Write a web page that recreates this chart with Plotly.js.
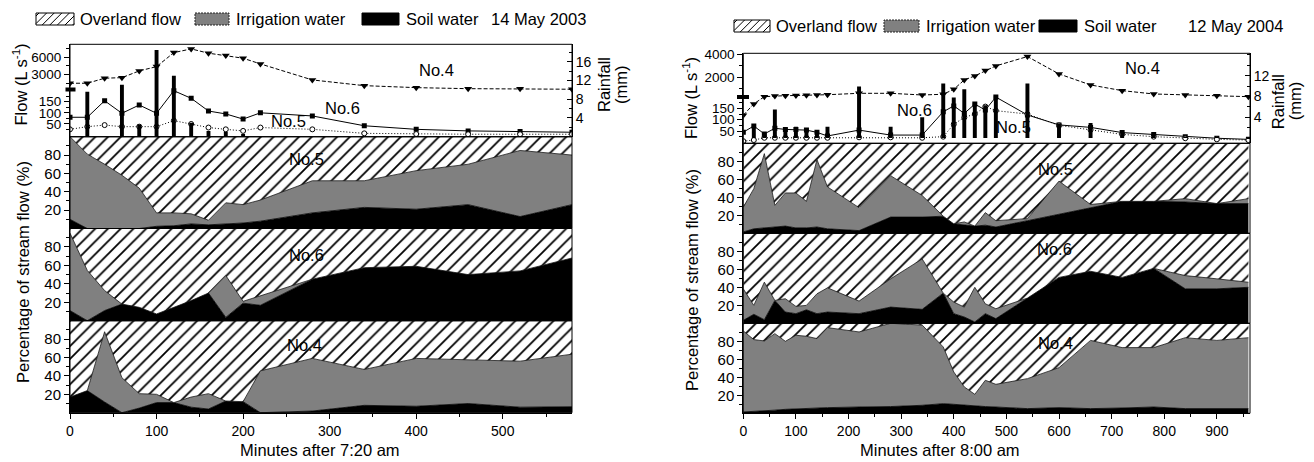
<!DOCTYPE html>
<html><head><meta charset="utf-8">
<script src="https://cdn.plot.ly/plotly-3.0.1.min.js"></script>
<style>html,body{margin:0;padding:0;background:#fff}#chart{width:1314px;height:462px}</style>
</head><body><div id="chart"></div>
<script>
// ---------------- DATA ----------------
// Left chart: 14 May 2003, minutes after 7:20 am
const tA = [0,20,40,60,80,100,120,140,160,180,200,220,280,340,400,460,520,580];
const flowA_no4 = [1470,1470,2350,2450,3630,4380,6830,7480,6730,6320,5850,4850,2050,1050,700,520,520,420];
const flowA_no6 = [80,80,154,98,135,98,199,165,108,95,72,100,86,42,26,19,16,13];
const flowA_no5 = [26,38,45,38,38,38,65,50,34,26,19,34,26,8,5,4,4,4];
const rainA_t = [20,60,80,100,120,140,160,180,200];
const rainA = [9.6,11.1,2.6,18.5,13,3,1.2,1,0.6];
const soilA_no5 = [10,0,0,0,0,2.4,3,5,4,5,6,8,17,23,21,26,13,26];
const irrA_no5  = [90,81,70,58,44,14.6,14,11,5,23,20,23,35,29,42,44,72,54];
const soilA_no6 = [11,0,11,18,14.5,7.3,14.5,21.8,30,3.6,19,16.7,45,57.5,59,50,54,68];
const irrA_no6  = [84,54.5,21.7,0,0,0,0,0,0,45.4,2,10.3,0,0,0,0,0,0];
const soilA_no4 = [17,24,11.6,0,5,11,11,6,4,12.7,12,0,1.8,8,7,10,6,6.5];
const irrA_no4  = [0,0,76.4,38,15.7,9,0,11,16.7,0,0,45.5,57.2,39,52,47.6,50,57.1];

// Right chart: 12 May 2004, minutes after 8:00 am
const tB = [0,20,40,60,80,100,120,140,160,220,280,340,380,400,420,440,460,480,540,600,660,720,780,840,900,960];
const flowB_no4 = [120,170,240,300,330,345,365,390,415,540,540,390,455,900,1740,2100,2580,3000,3840,2280,1290,780,480,390,325,240];
const flowB_no6 = [45,72,37,62,57,57,54,44,28,54,32,32,135,161,128,169,143,202,121,77,66,43,35,25,18,13];
const flowB_no5 = [5,10,20,20,20,20,20,20,20,22,22,20,25,80,110,125,158,140,125,75,55,35,25,18,13,10];
const rainB_t = [20,40,60,80,100,120,140,160,220,280,340,380,400,420,440,460,480,540,600,660,720,780,840,900,960];
const rainB = [2.3,1,5.5,1.9,2.2,1.9,1.3,2.2,9.9,2.2,4,10.5,7.8,9.4,6.7,6.3,8.1,10.5,2.8,2.9,1.2,1,0.3,0.2,0.2];
const soilB_no5 = [1.5,5,6,7,8,6,6,7,5,3,18,18,19,10.5,9,8,9,7,14,21,28,35.5,35.5,34.8,33,33];
const irrB_no5  = [27.5,44.6,82.5,24,36.8,38.8,29.5,74.9,46.5,25.5,46,24,0,0,3.6,0,14,7,2.3,37,4,0,0,3.7,0,5.5];
const soilB_no6 = [3.3,10,4,25.4,12.5,10.7,15,10.7,12.5,10.7,18,15.5,33.5,10.7,7,1.5,10.7,5.2,28,51,57.8,51,61,38.3,38.3,40];
const irrB_no6  = [35,9.9,41.7,0,14.8,8.1,4.9,22.1,26.9,14,31.4,56,0,12.9,11,38.5,11,11,0,0,0,0,0,14.7,11.1,5.6];
const soilB_no4 = [1.5,2,2.6,3.5,4.4,5,5.5,6,6.3,7,7.5,8.9,10.7,10,8.9,8,7.5,7,5.2,6.3,5.2,5.9,7,5.2,5.2,5.2];
const irrB_no4  = [90,79.9,77.8,85,75.6,81.7,80.1,77,88.9,83.4,92.5,89.1,63,35.9,20.4,13.1,29.2,25.2,33.3,44.4,75.8,67.1,66,78.8,75.8,78.8];

const flowTicksMajorA = [50,100,150,3000,6000];
const flowTicksMinorA = [25,75,125,175,1500,4500,7500];
const flowTicksMajorB = [50,100,150,2000,4000];
const flowTicksMinorB = [25,75,125,175,1000,3000];
const pctTicks = [20,40,60,80];
const pctMinor = [10,30,50,70,90];

// ---------------- BUILD ----------------
const W=1314,H=462;
const FONT='Liberation Sans, Arial, sans-serif';
const px=x=>x/W, py=y=>1-y/H;
const dom=(t,b)=>[1-b/H,1-t/H];
const brk=(v,r)=>v<=200?v:200+(v-200)*r;

const traces=[]; const layout={
  width:W,height:H,margin:{l:0,r:0,t:0,b:0},paper_bgcolor:'white',plot_bgcolor:'rgba(0,0,0,0)',
  showlegend:false,font:{family:FONT,color:'black',size:15},shapes:[],annotations:[]
};
const tf=(s)=>({family:FONT,size:s,color:'black'});

function build(c){
  const xa=c.xa, xkey=xa==='x'?'xaxis':'xaxis'+xa.slice(1);
  const ak=(y)=>y==='y'?'yaxis':'yaxis'+y.slice(1);
  layout[xkey]={domain:[px(c.xPix[0]),px(c.xPix[1])],range:c.xRange,anchor:c.pct[2].ya,
    tickmode:'linear',tick0:0,dtick:100,ticks:'outside',ticklen:5,tickwidth:1,tickcolor:'black',
    minor:{tickmode:'linear',tick0:0,dtick:50,ticks:'outside',ticklen:3,tickwidth:1,tickcolor:'black'},
    showline:true,linecolor:'black',linewidth:1,showgrid:false,zeroline:false,tickfont:tf(14)};
  layout[ak(c.yFlow)]={domain:dom(c.flowPix[0],c.flowPix[1]),range:c.flowRange,anchor:xa,
    tickmode:'array',tickvals:c.major.map(v=>brk(v,c.r)),ticktext:c.major.map(String),
    minor:{tickmode:'array',tickvals:c.minor.map(v=>brk(v,c.r)),ticks:'outside',ticklen:3,tickwidth:1,tickcolor:'black'},
    ticks:'outside',ticklen:5,tickwidth:1,tickcolor:'black',showline:true,linecolor:'black',linewidth:1,
    showgrid:false,zeroline:false,tickfont:tf(13.5)};
  layout[ak(c.yRain)]={overlaying:c.yFlow,side:'right',anchor:xa,range:c.rainRange,
    tickmode:'array',tickvals:c.rainTicks,ticks:'inside',ticklen:5,tickwidth:1,tickcolor:'black',
    minor:{tickmode:'linear',tick0:0,dtick:2,ticks:'inside',ticklen:3,tickwidth:1,tickcolor:'black'},
    showline:true,linecolor:'black',linewidth:1,showgrid:false,zeroline:false,tickfont:tf(14)};
  traces.push({type:'bar',x:c.rainT,y:c.rain,width:c.bw,xaxis:xa,yaxis:c.yRain,
    marker:{color:'black',line:{width:0}},hoverinfo:'skip'});
  const yf=c.yFlow;
  traces.push({type:'scatter',mode:'lines+markers',x:c.t,y:c.no4.map(v=>brk(v,c.r)),xaxis:xa,yaxis:yf,
    line:{color:'black',width:1,dash:'4px,2px'},marker:{symbol:'triangle-down',size:7,color:'black'}});
  traces.push({type:'scatter',mode:'lines+markers',x:c.t,y:c.no6.map(v=>brk(v,c.r)),xaxis:xa,yaxis:yf,
    line:{color:'black',width:1},marker:{symbol:'square',size:5,color:'black'}});
  traces.push({type:'scatter',mode:'lines+markers',x:c.t,y:c.no5.map(v=>brk(v,c.r)),xaxis:xa,yaxis:yf,
    line:{color:'black',width:1,dash:'1px,2px'},marker:{symbol:'circle',size:5,color:'white',line:{color:'black',width:1}}});
  c.pct.forEach((p,i)=>{
    layout[ak(p.ya)]={domain:dom(p.pix[0],p.pix[1]),range:[0,100],anchor:xa,
      tickmode:'array',tickvals:pctTicks,ticks:'outside',ticklen:5,tickwidth:1,tickcolor:'black',
      minor:{tickmode:'array',tickvals:pctMinor,ticks:'outside',ticklen:3,tickwidth:1,tickcolor:'black'},
      showline:true,linecolor:'black',linewidth:1,showgrid:false,zeroline:false,tickfont:tf(15)};
    const sg='s'+xa+i;
    const over=c.t.map((_,k)=>Math.max(0,100-p.soil[k]-p.irr[k]));
    traces.push({type:'scatter',mode:'lines',x:c.t,y:p.soil,xaxis:xa,yaxis:p.ya,stackgroup:sg,
      line:{color:'black',width:0.8},fillcolor:'black'});
    traces.push({type:'scatter',mode:'lines',x:c.t,y:p.irr,xaxis:xa,yaxis:p.ya,stackgroup:sg,
      line:{color:'#111',width:0.8},fillcolor:'#808080'});
    traces.push({type:'scatter',mode:'lines',x:c.t,y:over,xaxis:xa,yaxis:p.ya,stackgroup:sg,
      line:{color:'black',width:0.8},fillcolor:'white',
      fillpattern:{shape:'/',size:9,solidity:0.2,fgcolor:'black',bgcolor:'white'}});
    layout.shapes.push({type:'rect',xref:'paper',yref:'paper',x0:px(c.xPix[0]),x1:px(c.xPix[1]),
      y0:py(p.pix[1]),y1:py(p.pix[0]),line:{color:'black',width:1},fillcolor:'rgba(0,0,0,0)',layer:'above'});
    layout.annotations.push({text:p.label,xref:'paper',yref:'paper',x:px(p.lab[0]),y:py(p.lab[1]),
      xanchor:'center',yanchor:'middle',showarrow:false,font:tf(16.5)});
  });
  layout.shapes.push({type:'rect',xref:'paper',yref:'paper',x0:px(c.xPix[0]),x1:px(c.xPix[1]),
    y0:py(c.flowPix[1]),y1:py(c.flowPix[0]),line:{color:'black',width:1},fillcolor:'rgba(0,0,0,0)',layer:'above'});
  layout.shapes.push({type:'rect',xref:'paper',yref:'paper',x0:px(c.brkPix[0]),x1:px(c.brkPix[1]),
    y0:py(c.brkPix[3]),y1:py(c.brkPix[2]),line:{width:0},fillcolor:'black',layer:'above'});
  c.flowLabels.forEach(l=>layout.annotations.push({text:l[0],xref:'paper',yref:'paper',x:px(l[1]),y:py(l[2]),
    xanchor:'center',yanchor:'middle',showarrow:false,font:tf(16.5)}));
  const A=(text,x,y,ang,xa_='center')=>layout.annotations.push({text,xref:'paper',yref:'paper',x:px(x),y:py(y),
    xanchor:xa_,yanchor:'middle',showarrow:false,textangle:ang,font:tf(16.5)});
  A('Flow (L s<sup>-1</sup>)',c.tFlow[0],c.tFlow[1],-90);
  A('Percentage of stream flow (%)',c.tPct[0],c.tPct[1],-90);
  A('Rainfall',c.tRain[0],c.tRain[1],-90);
  A('(mm)',c.tRain[0]+17,c.tRain[1],-90);
  A(c.xTitle,c.tX[0],c.tX[1],0);
  const L=c.leg, y0=L.y-6, y1=L.y+6;
  layout.shapes.push({type:'rect',xref:'paper',yref:'paper',x0:px(L.hb[0]),x1:px(L.hb[1]),y0:py(y1),y1:py(y0),
    line:{color:'black',width:1},fillcolor:'white'});
  let d=''; const h=y1-y0, step=7.6;
  for(let k=L.hb[0]-h+3;k<L.hb[1];k+=step){
    let ax=k,ay=y1,bx=k+h,by=y0;
    if(ax<L.hb[0]){ay=y1-(L.hb[0]-ax);ax=L.hb[0];}
    if(bx>L.hb[1]){by=y0+(bx-L.hb[1]);bx=L.hb[1];}
    if(ax>=bx) continue;
    d+=`M${px(ax)},${py(ay)}L${px(bx)},${py(by)}`;
  }
  layout.shapes.push({type:'path',xref:'paper',yref:'paper',path:d,line:{color:'black',width:1}});
  layout.shapes.push({type:'rect',xref:'paper',yref:'paper',x0:px(L.gb[0]),x1:px(L.gb[1]),y0:py(y1),y1:py(y0),
    line:{color:'#222',width:1,dash:'2px,1px'},fillcolor:'#808080'});
  layout.shapes.push({type:'rect',xref:'paper',yref:'paper',x0:px(L.bb[0]),x1:px(L.bb[1]),y0:py(y1),y1:py(y0),
    line:{color:'black',width:1},fillcolor:'black'});
  A('Overland flow',L.hb[1]+4,L.y,0,'left');
  A('Irrigation water',L.gb[1]+5,L.y,0,'left');
  A('Soil water',L.bb[1]+5,L.y,0,'left');
  A(c.date,L.dx,L.y,0,'left');
}

build({xa:'x',yFlow:'y',yRain:'y2',t:tA,xRange:[0,580],xPix:[70,572],flowPix:[44.3,136.7],
  r:0.0256,flowRange:[-7,407],major:flowTicksMajorA,minor:flowTicksMinorA,
  rainRange:[0,19.7],rainTicks:[4,8,12,16],rainT:rainA_t,rain:rainA,bw:4.5,
  no4:flowA_no4,no6:flowA_no6,no5:flowA_no5,
  pct:[{ya:'y3',pix:[136.7,228.5],soil:soilA_no5,irr:irrA_no5,label:'No.5',lab:[306,158.6]},
       {ya:'y4',pix:[228.5,320.7],soil:soilA_no6,irr:irrA_no6,label:'No.6',lab:[306,255]},
       {ya:'y5',pix:[320.7,412.7],soil:soilA_no4,irr:irrA_no4,label:'No.4',lab:[304,345]}],
  brkPix:[65.5,75.5,87.5,91.5],
  flowLabels:[['No.4',436,70],['No.6',342,108],['No.5',288,121]],
  tFlow:[20.5,85],tPct:[23,272],tRain:[604,85],tX:[320,450],xTitle:'Minutes after 7:20 am',
  leg:{y:19,hb:[36,74],gb:[195,229],bb:[362,399],dx:489},date:'14 May 2003'});

build({xa:'x2',yFlow:'y6',yRain:'y7',t:tB,xRange:[0,963],xPix:[743.3,1250],flowPix:[53.3,143.3],
  r:0.0493,flowRange:[-4.4,393.8],major:flowTicksMajorB,minor:flowTicksMinorB,
  rainRange:[-1,16.3],rainTicks:[4,8,12],rainT:rainB_t,rain:rainB,bw:7.5,
  no4:flowB_no4,no6:flowB_no6,no5:flowB_no5,
  pct:[{ya:'y8',pix:[143.3,233.3],soil:soilB_no5,irr:irrB_no5,label:'No.5',lab:[1055,168.5]},
       {ya:'y9',pix:[233.3,323.3],soil:soilB_no6,irr:irrB_no6,label:'No.6',lab:[1054,249]},
       {ya:'y10',pix:[323.3,413.3],soil:soilB_no4,irr:irrB_no4,label:'No.4',lab:[1055,343]}],
  brkPix:[737,749,95,99],
  flowLabels:[['No.4',1142.5,68],['No.6',914.5,110],['No.5',1013,127]],
  tFlow:[690,98],tPct:[692,280],tRain:[1277.5,101.7],tX:[940,450],xTitle:'Minutes after 8:00 am',
  leg:{y:26,hb:[734,770],gb:[884,919],bb:[1039,1077],dx:1186},date:'12 May 2004'});

Plotly.newPlot('chart',traces,layout,{staticPlot:true,displayModeBar:false});
</script></body></html>
